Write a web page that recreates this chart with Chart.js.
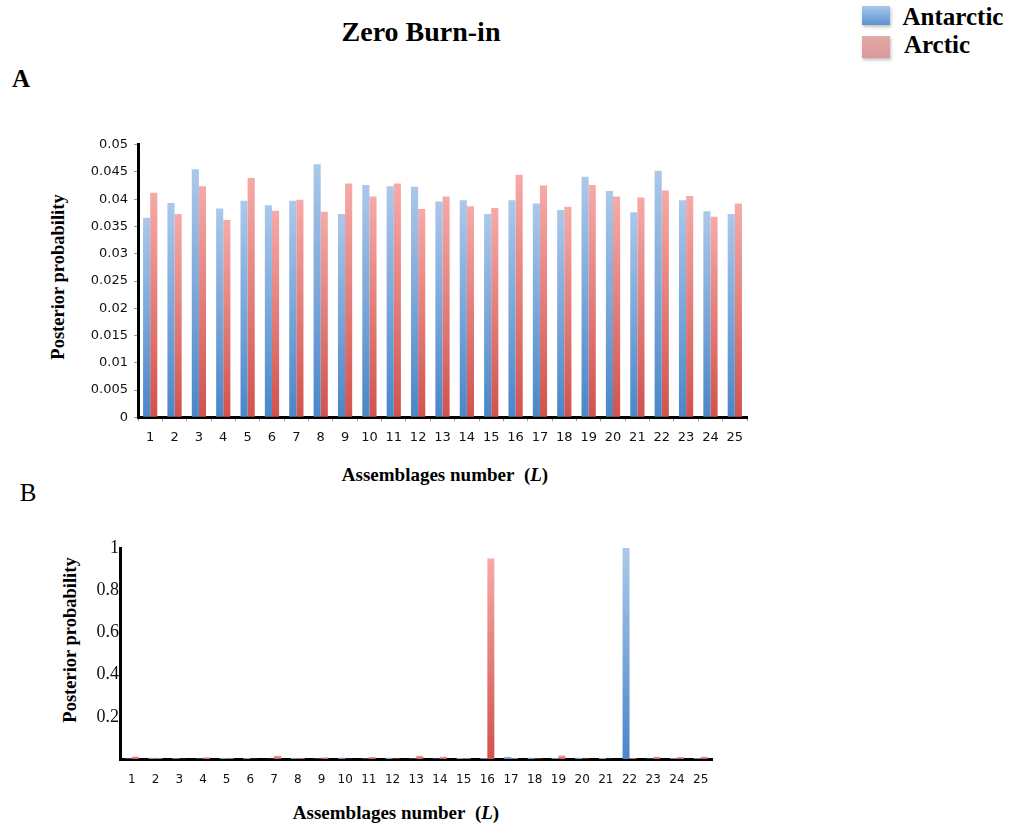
<!DOCTYPE html>
<html>
<head>
<meta charset="utf-8">
<script src="https://cdn.jsdelivr.net/npm/chart.js@4.4.1/dist/chart.umd.min.js"></script>
<style>
  html, body { margin: 0; padding: 0; background: #fff; }
  body { width: 1015px; height: 825px; position: relative; overflow: hidden; font-family: "Liberation Serif", "Times New Roman", serif; }
  .t { position: absolute; transform: translate(-50%, -50%); white-space: nowrap; line-height: 1; color: #000; }
  .rot { transform: translate(-50%, -50%) rotate(-90deg); }
  .box { position: absolute; width: 28px; box-shadow: 1px 2px 3px rgba(0,0,0,0.25); }
  canvas { position: absolute; }
  #wrapA { position: absolute; left: 0; top: 100px; width: 800px; height: 370px; }
  #wrapB { position: absolute; left: 0; top: 520px; width: 800px; height: 280px; }
</style>
</head>
<body>
<div class="t" style="left:421px; top:32px; font-size:28px; font-weight:bold;">Zero Burn-in</div>
<div class="t" style="left:21px; top:78px; font-size:25px; font-weight:bold;">A</div>
<div class="t" style="left:28px; top:492px; font-size:25px;">B</div>

<div class="box" style="left:862px; top:6px; height:19px; background:linear-gradient(#a9c6ea,#5e93d3);"></div>
<div class="box" style="left:862px; top:36px; height:22px; background:linear-gradient(#e4a9a8,#d89a98);"></div>
<div class="t" style="left:953px; top:16px; font-size:25px; font-weight:bold;">Antarctic</div>
<div class="t" style="left:937px; top:44px; font-size:25px; font-weight:bold;">Arctic</div>

<div class="t rot" style="left:58px; top:277px; font-size:18.5px; font-weight:bold;">Posterior probability</div>
<div class="t" style="left:445px; top:474px; font-size:19px; font-weight:bold;">Assemblages number&nbsp; (<i>L</i>)</div>
<div class="t rot" style="left:70px; top:640px; font-size:18.5px; font-weight:bold;">Posterior probability</div>
<div class="t" style="left:396px; top:812px; font-size:19px; font-weight:bold;">Assemblages number&nbsp; (<i>L</i>)</div>

<div id="wrapA"><canvas id="chartA" width="800" height="370"></canvas></div>
<div id="wrapB"><canvas id="chartB" width="800" height="280"></canvas></div>

<script>
// ---- data ----
const categories = ['1','2','3','4','5','6','7','8','9','10','11','12','13','14','15','16','17','18','19','20','21','22','23','24','25'];
const seriesNames = ['Antarctic', 'Arctic'];

// Panel A: zero burn-in, posterior probability per assemblage
const antarcticA = [0.0366, 0.0393, 0.0455, 0.0383, 0.0397, 0.0389, 0.0397, 0.0464, 0.0373, 0.0426, 0.0424, 0.0423, 0.0396, 0.0398, 0.0373, 0.0398, 0.0392, 0.0380, 0.0441, 0.0415, 0.0376, 0.0452, 0.0398, 0.0378, 0.0373];
const arcticA    = [0.0412, 0.0373, 0.0424, 0.0362, 0.0439, 0.0379, 0.0399, 0.0377, 0.0429, 0.0405, 0.0429, 0.0382, 0.0405, 0.0387, 0.0384, 0.0445, 0.0425, 0.0386, 0.0426, 0.0405, 0.0403, 0.0416, 0.0406, 0.0368, 0.0392];

// Panel B
const antarcticB = [0.002, 0.006, 0.004, 0.002, 0.005, 0.005, 0.001, 0.006, 0.002, 0.007, 0.002, 0.006, 0.002, 0.002, 0.005, 0.003, 0.011, 0.006, 0.003, 0.006, 0.005, 1.0, 0.002, 0.003, 0.003];
const arcticB    = [0.012, 0.003, 0.001, 0.008, 0.003, 0.001, 0.015, 0.003, 0.008, 0.001, 0.010, 0.002, 0.015, 0.011, 0.003, 0.95, 0.003, 0.002, 0.016, 0.002, 0.001, 0.003, 0.011, 0.010, 0.011];

// tick labels
const yTicksA = [0, 0.005, 0.01, 0.015, 0.02, 0.025, 0.03, 0.035, 0.04, 0.045, 0.05];
const yTickLabelsA = ['0', '0.005', '0.01', '0.015', '0.02', '0.025', '0.03', '0.035', '0.04', '0.045', '0.05'];
const yTicksB = [0.2, 0.4, 0.6, 0.8, 1];
const yTickLabelsB = ['0.2', '0.4', '0.6', '0.8', '1'];

// ---- styling helpers ----
const BLUE_TOP = '#abc8ea', BLUE_BOT = '#4a86c9';
const RED_TOP = '#f6aaa7', RED_BOT = '#d2524c';

function barGradient(top, bottom) {
  return (c) => {
    const chart = c.chart;
    if (!chart.chartArea || c.raw == null) return bottom;
    const ys = chart.scales.y;
    const y0 = ys.getPixelForValue(0), y1 = ys.getPixelForValue(c.raw);
    if (Math.abs(y0 - y1) < 0.5) return bottom;
    const g = chart.ctx.createLinearGradient(0, y1, 0, y0);
    g.addColorStop(0, top);
    g.addColorStop(1, bottom);
    return g;
  };
}

function makeChart(id, a, r, cfg) {
  return new Chart(document.getElementById(id), {
    type: 'bar',
    data: {
      labels: categories,
      datasets: [
        { label: seriesNames[0], data: a, backgroundColor: barGradient(BLUE_TOP, BLUE_BOT), borderWidth: 0,
          categoryPercentage: cfg.catPct, barPercentage: 1.0 },
        { label: seriesNames[1], data: r, backgroundColor: barGradient(RED_TOP, RED_BOT), borderWidth: 0,
          categoryPercentage: cfg.catPct, barPercentage: 1.0 }
      ]
    },
    options: {
      responsive: false,
      animation: false,
      events: [],
      layout: { padding: cfg.padding },
      plugins: { legend: { display: false }, tooltip: { enabled: false }, title: { display: false } },
      scales: {
        x: {
          grid: { display: cfg.xTicks, drawOnChartArea: false, drawTicks: cfg.xTicks, tickLength: 4, color: '#9a9a9a', offset: true },
          border: { display: true, color: '#000', width: 3 },
          ticks: { font: cfg.xFont, color: '#111', padding: cfg.xPad, maxRotation: 0, autoSkip: false },
          afterFit: (s) => { s.height = cfg.xHeight; }
        },
        y: {
          min: 0, max: cfg.yMax,
          grid: { display: cfg.yTickMarks, drawOnChartArea: false, drawTicks: cfg.yTickMarks, tickLength: 4, color: '#9a9a9a' },
          border: { display: true, color: '#000', width: 3 },
          ticks: {
            font: cfg.yFont, color: '#111', padding: cfg.yPad,
            callback: (v) => { const i = cfg.yTicks.indexOf(Number(v.toFixed(4))); return i >= 0 ? cfg.yLabels[i] : ''; }
          },
          afterBuildTicks: (s) => { s.ticks = cfg.yTicks.map(v => ({ value: v })); },
          afterFit: (s) => { s.width = cfg.yWidth; }
        }
      }
    }
  });
}

makeChart('chartA', antarcticA, arcticA, {
  catPct: 0.585,
  padding: { left: 0, right: 53, top: 44.7, bottom: 0 },
  xHeight: 52.7, yWidth: 138, yMax: 0.05,
  xTicks: true, yTickMarks: true,
  xFont: { family: 'DejaVu Sans', size: 13 }, yFont: { family: 'DejaVu Sans', size: 13 },
  xPad: 9, yPad: 6,
  yTicks: yTicksA, yLabels: yTickLabelsA
});

makeChart('chartB', antarcticB, arcticB, {
  catPct: 0.59,
  padding: { left: 0, right: 87.5, top: 28, bottom: 0 },
  xHeight: 41, yWidth: 120, yMax: 1,
  xTicks: false, yTickMarks: false,
  xFont: { family: 'DejaVu Sans', size: 12 }, yFont: { family: 'Liberation Serif', size: 18 },
  xPad: 14, yPad: 1,
  yTicks: yTicksB, yLabels: yTickLabelsB
});
</script>
</body>
</html>
